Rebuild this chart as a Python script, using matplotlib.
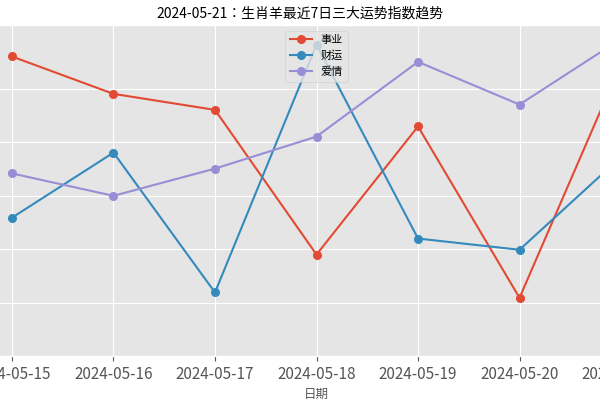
import matplotlib
matplotlib.use("Agg")
import matplotlib.pyplot as plt
from matplotlib import font_manager

plt.style.use("ggplot")
cjk = [f.name for f in font_manager.fontManager.ttflist if "CJK" in f.name]
pref = [n for n in cjk if "SC" in n] or cjk
plt.rcParams["font.family"] = (pref[:1] if pref else []) + ["DejaVu Sans"]
plt.rcParams["axes.unicode_minus"] = False

dates = ["2024-05-15", "2024-05-16", "2024-05-17", "2024-05-18", "2024-05-19", "2024-05-20", "2024-05-21"]
career = [9.61, 8.91, 8.61, 5.90, 8.30, 5.09, 9.48]
wealth = [6.59, 7.81, 5.19, 9.83, 6.20, 5.99, 7.73]
love = [7.42, 7.00, 7.51, 8.11, 9.51, 8.71, 9.94]

fig = plt.figure(figsize=(6, 4), dpi=100)
ax = fig.add_axes([-18.5 / 600, 0.11, 670 / 600, 0.8275])
x = range(len(dates))
ax.plot(x, career, marker="o", markersize=5.5, label="事业", color="#E24A33")
ax.plot(x, wealth, marker="o", markersize=5.5, label="财运", color="#348ABD")
ax.plot(x, love, marker="o", markersize=5.5, label="爱情", color="#988ED5")
ax.set_xticks(list(x))
ax.set_xticklabels(dates, fontsize=11)
ax.set_yticks([5, 6, 7, 8, 9])
ax.set_ylim(4.0, 10.2)
ax.set_xlim(-0.3, 6.3)
ax.set_xlabel("日期", fontsize=9)
fig.text(0.5, 0.965, "2024-05-21：生肖羊最近7日三大运势指数趋势", ha="center", va="center", fontsize=10)
ax.legend(loc="upper center", fontsize=8)
fig.savefig("out.png", dpi=100)
